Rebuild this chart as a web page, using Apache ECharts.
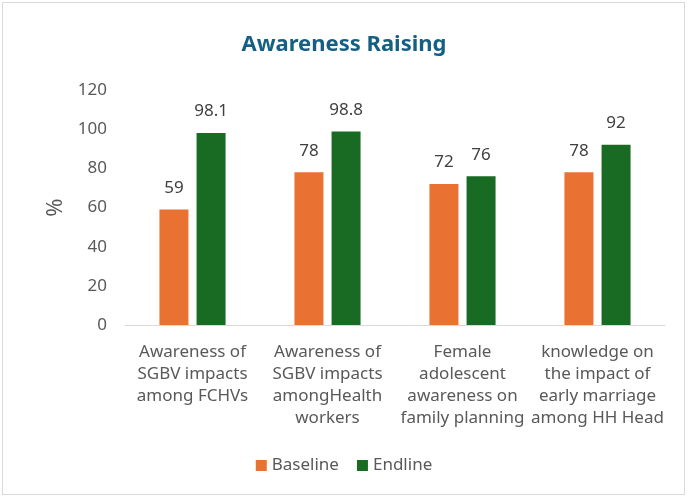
<!DOCTYPE html>
<html><head><meta charset="utf-8">
<script src="https://cdn.jsdelivr.net/npm/echarts@6/dist/echarts.min.js"></script>
<style>html,body{margin:0;padding:0;background:#fff}
#wrap{position:absolute;left:2px;top:2px;width:683px;height:493px;border:1px solid #d9d9d9;box-sizing:border-box}
#c{position:absolute;left:0;top:0;width:688px;height:498px}</style>
</head><body><div id="wrap"></div><div id="c"></div>
<script>
var categories = ["Awareness of\nSGBV impacts\namong FCHVs", "Awareness of\nSGBV impacts\namongHealth\nworkers", "Female\nadolescent\nawareness on\nfamily planning", "knowledge on\nthe impact of\nearly marriage\namong HH Head"];
var baseline = [59, 78, 72, 78];
var endline = [98.1, 98.8, 76, 92];
var yTicks = [0, 20, 40, 60, 80, 100, 120];
var FONT = "Noto Sans";
var chart = echarts.init(document.getElementById('c'), null, {renderer: 'canvas'});
chart.setOption({
  animation: false,
  textStyle: {fontFamily: FONT},
  title: {text: "Awareness Raising", left: 'center', top: 29, textStyle: {color: '#156082', fontSize: 22, fontWeight: 'bold', fontFamily: FONT}},
  legend: {bottom: 19, left: 'center', itemWidth: 11, itemHeight: 11, itemGap: 18, icon: 'rect',
    textStyle: {color: '#595959', fontSize: 17, fontFamily: FONT}, data: ['Baseline', 'Endline']},
  grid: {left: 125, right: 23, top: 90, bottom: 173, containLabel: false},
  xAxis: {type: 'category', data: categories,
    axisLine: {lineStyle: {color: '#d9d9d9', width: 1}}, axisTick: {show: false},
    axisLabel: {color: '#595959', fontSize: 17, lineHeight: 22, margin: 16, interval: 0, fontFamily: FONT}},
  yAxis: {type: 'value', min: yTicks[0], max: yTicks[yTicks.length - 1], interval: 20,
    name: '%', nameLocation: 'middle', nameGap: 57, nameRotate: 90,
    nameTextStyle: {color: '#595959', fontSize: 22, fontFamily: FONT},
    axisLine: {show: false}, axisTick: {show: false}, splitLine: {show: false},
    axisLabel: {color: '#595959', fontSize: 17, margin: 18, fontFamily: FONT}},
  series: [
    {name: 'Baseline', type: 'bar', data: baseline, barWidth: 29, barGap: '28%', itemStyle: {color: '#E97132'},
      label: {show: true, position: 'top', distance: 13, color: '#404040', fontSize: 17, fontFamily: FONT}},
    {name: 'Endline', type: 'bar', data: endline, barWidth: 29, itemStyle: {color: '#196B24'},
      label: {show: true, position: 'top', distance: 13, color: '#404040', fontSize: 17, fontFamily: FONT}}
  ]
});
</script></body></html>
